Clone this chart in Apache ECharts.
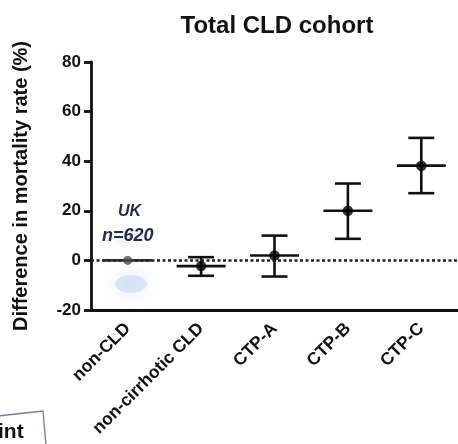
<!DOCTYPE html>
<html>
<head>
<meta charset="utf-8">
<script src="https://cdn.jsdelivr.net/npm/echarts@6/dist/echarts.min.js"></script>
<style>
  html, body { margin: 0; padding: 0; background: #fff; }
  #chart { width: 458px; height: 444px; }
</style>
</head>
<body>
<div id="chart"></div>
<script>
// Mortality-rate difference by liver disease group (mean with 95% CI)
const categories = ['non-CLD', 'non-cirrhotic CLD', 'CTP-A', 'CTP-B', 'CTP-C'];
const means = [0, -2.3, 2, 20, 38.2];
const lowerCI = [null, -6.2, -6.5, 8.7, 27.1];
const upperCI = [null, 1.3, 10, 31, 49.4];
const yTicks = [-20, 0, 20, 40, 60, 80];

const FONT = 'Liberation Sans, Arial, sans-serif';

const chart = echarts.init(document.getElementById('chart'), null, { renderer: 'canvas' });

// error bar + mean line for each group
function renderBar(params, api) {
  const i = api.value(0);
  const mean = api.value(1);
  const lo = api.value(2);
  const hi = api.value(3);
  const c = api.coord([i, mean]);
  const halfMean = 24.5, halfCap = 13;
  const style = { stroke: '#111', lineWidth: 2.6 };
  const children = [{
    type: 'line',
    shape: { x1: c[0] - halfMean, y1: c[1], x2: c[0] + halfMean, y2: c[1] },
    style: Object.assign({}, style, { stroke: i === 0 ? '#333' : '#111' })
  }];
  if (!isNaN(lo) && !isNaN(hi)) {
    const pLo = api.coord([i, lo]);
    const pHi = api.coord([i, hi]);
    children.push(
      { type: 'line', shape: { x1: c[0], y1: pHi[1], x2: c[0], y2: pLo[1] }, style: style },
      { type: 'line', shape: { x1: c[0] - halfCap, y1: pHi[1], x2: c[0] + halfCap, y2: pHi[1] }, style: style },
      { type: 'line', shape: { x1: c[0] - halfCap, y1: pLo[1], x2: c[0] + halfCap, y2: pLo[1] }, style: style }
    );
  }
  return { type: 'group', children: children };
}

const barData = categories.map((c, i) => [i, means[i],
  lowerCI[i] === null ? NaN : lowerCI[i],
  upperCI[i] === null ? NaN : upperCI[i]]);

const option = {
  animation: false,
  backgroundColor: '#fff',
  title: {
    text: 'Total CLD cohort',
    left: 272, top: 9, textAlign: 'center',
    textStyle: { fontFamily: FONT, fontSize: 24, fontWeight: 'bold', color: '#111' }
  },
  grid: { left: 91, right: 0, top: 62, bottom: 134, containLabel: false },
  xAxis: {
    type: 'category',
    data: categories,
    boundaryGap: true,
    axisLine: { onZero: false, lineStyle: { color: '#111', width: 2.8 } },
    axisTick: { alignWithLabel: true, length: 7, lineStyle: { color: '#111', width: 2.8 } },
    axisLabel: {
      rotate: 45, margin: 16, interval: 0,
      fontFamily: FONT, fontSize: 17.5, fontWeight: 'bold', color: '#111'
    }
  },
  yAxis: {
    type: 'value',
    min: yTicks[0], max: yTicks[yTicks.length - 1], interval: 20,
    name: 'Difference in mortality rate (%)',
    nameLocation: 'middle', nameGap: 60, nameRotate: 90,
    nameTextStyle: { fontFamily: FONT, fontSize: 20, fontWeight: 'bold', color: '#111' },
    axisLine: { show: true, onZero: false, lineStyle: { color: '#111', width: 2.8 } },
    axisTick: { show: true, length: 7, lineStyle: { color: '#111', width: 2.8 } },
    axisLabel: { margin: 10, fontFamily: FONT, fontSize: 17, fontWeight: 'bold', color: '#111' },
    splitLine: { show: false }
  },
  graphic: [
    // soft blue highlight around the reference group
    { type: 'ellipse', shape: { cx: 131, cy: 284, rx: 16, ry: 9 },
      style: { fill: 'rgba(195,215,242,0.55)', shadowBlur: 16, shadowColor: 'rgba(195,215,242,0.9)' }, z: 0 },
    { type: 'ellipse', shape: { cx: 128, cy: 238, rx: 14, ry: 8 },
      style: { fill: 'rgba(220,232,248,0.35)', shadowBlur: 16, shadowColor: 'rgba(220,232,248,0.6)' }, z: 0 },
    { type: 'text', left: 118, top: 204, z: 10,
      style: { text: 'UK', font: 'italic bold 16px ' + FONT, fill: '#1e2b45' } },
    { type: 'text', left: 102, top: 227, z: 10,
      style: { text: 'n=620', font: 'italic bold 18px ' + FONT, fill: '#1e2b45' } },
    // edge of a neighbouring panel box
    { type: 'polyline', z: 10,
      shape: { points: [[-2, 416], [43, 411], [46, 446]] },
      style: { stroke: '#6f7d95', lineWidth: 1.3, fill: null } },
    { type: 'text', left: -2, top: 422, z: 10,
      style: { text: 'int', font: 'bold 21px ' + FONT, fill: '#111' } }
  ],
  series: [
    {
      type: 'custom',
      renderItem: renderBar,
      data: barData,
      encode: { x: 0, y: 1 },
      z: 3,
      markLine: {
        silent: true, symbol: 'none', label: { show: false },
        lineStyle: { color: '#222', type: [3, 2.5], width: 2.6 },
        data: [{ yAxis: 0 }]
      }
    },
    {
      type: 'scatter',
      data: means.map((m, i) => ({
        value: [i, m],
        symbolSize: i === 0 ? 9 : 10.5,
        itemStyle: { color: i === 0 ? '#4a4a4a' : '#000' }
      })),
      symbol: 'circle',
      z: 5
    }
  ]
};

chart.setOption(option);
</script>
</body>
</html>
